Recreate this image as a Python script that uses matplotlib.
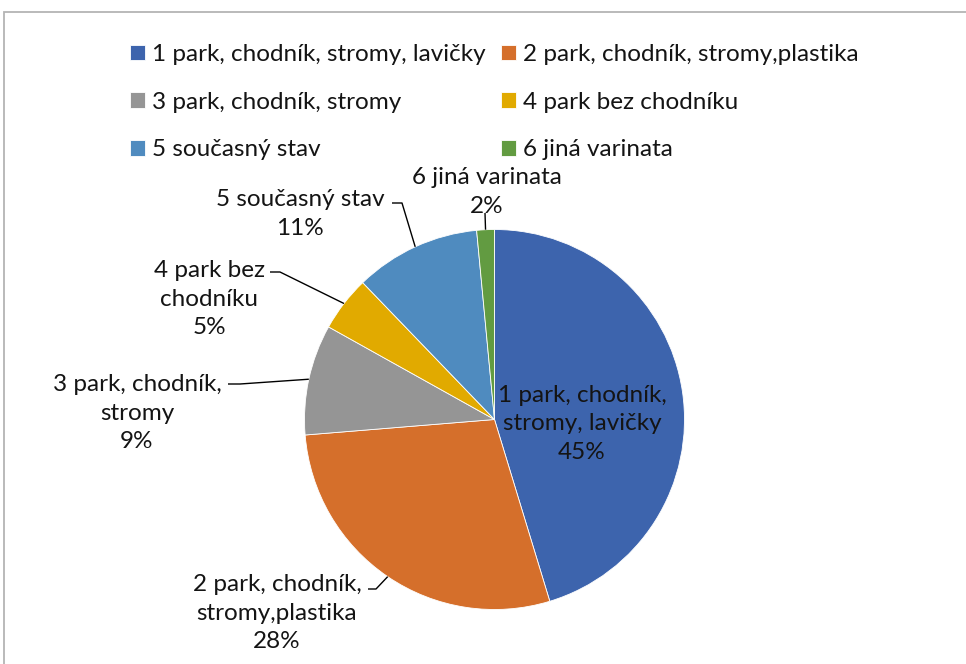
import numpy as np
import matplotlib
matplotlib.use("Agg")
import matplotlib.pyplot as plt
from matplotlib.patches import Rectangle

plt.rcParams['font.family'] = ['Lato', 'DejaVu Sans']

categories = ["1 park, chodník, stromy, lavičky",
              "2 park, chodník, stromy,plastika",
              "3 park, chodník, stromy",
              "4 park bez chodníku",
              "5 současný stav",
              "6 jiná varinata"]
label_texts = ["1 park, chodník,\nstromy, lavičky",
               "2 park, chodník,\nstromy,plastika",
               "3 park, chodník,\nstromy",
               "4 park bez\nchodníku",
               "5 současný stav",
               "6 jiná varinata"]
values = [45.3, 28.4, 9.4, 4.7, 10.7, 1.5]
colors = ["#3d64ad", "#d56f2b", "#959595", "#e1aa00", "#4f8bbf", "#629b41"]

W, H = 966, 664
fig = plt.figure(figsize=(W / 100, H / 100), dpi=100)

# frame
fig.patches.append(Rectangle((4 / W, -0.05), 1.1, (H - 12) / H + 0.05,
                             transform=fig.transFigure, fill=False,
                             edgecolor="#b4b4b4", linewidth=1.3))

cx, cy, R = 494.5, 419.5, 190.0
ax = fig.add_axes([(cx - R) / W, (H - cy - R) / H, 2 * R / W, 2 * R / H])

wedges, _ = ax.pie(values, colors=colors, startangle=90, counterclock=False,
                   radius=1.0, wedgeprops=dict(edgecolor="white", linewidth=0.6))
ax.set_xlim(-1, 1)
ax.set_ylim(-1, 1)
ax.set_aspect("auto")
ax.axis("off")

def px(x, y):
    return ((x - cx) / R, (cy - y) / R)

FS = 17.5
label_pos = [(582, 424), (277, 613), (137, 413), (209, 299), (300, 214), (487, 192)]
leader_start = [None, (368, 589), (228, 384), (270, 272), (392, 203), (485, 213)]
leader_horiz = [None, 8, 12, 10, 10, 0]

for i, w in enumerate(wedges):
    pct = f"{round(values[i])}%"
    tx, ty = px(*label_pos[i])
    ax.text(tx, ty, label_texts[i] + "\n" + pct, ha="center", va="center",
            fontsize=FS, linespacing=1.45, multialignment="center", color="#141414",
            clip_on=False)
    if leader_start[i] is not None:
        theta = np.deg2rad((w.theta1 + w.theta2) / 2)
        ex, ey = np.cos(theta), np.sin(theta)
        sx, sy = px(*leader_start[i])
        hx = sx + leader_horiz[i] / R
        ax.plot([sx, hx, ex], [sy, sy, ey], color="black", linewidth=1.0,
                solid_capstyle="butt", clip_on=False)

order = [0, 2, 4, 1, 3, 5]
leg = fig.legend([wedges[k] for k in order], [categories[k] for k in order],
                 ncol=2, loc="upper left", bbox_to_anchor=(130 / W, 1 - 44 / H),
                 frameon=False, fontsize=FS, handlelength=0.62, handleheight=0.62,
                 handletextpad=0.3, columnspacing=0.6, labelspacing=1.1,
                 borderpad=0, borderaxespad=0)
for t in leg.get_texts():
    t.set_color("#141414")

fig.savefig("out.png", dpi=100)
